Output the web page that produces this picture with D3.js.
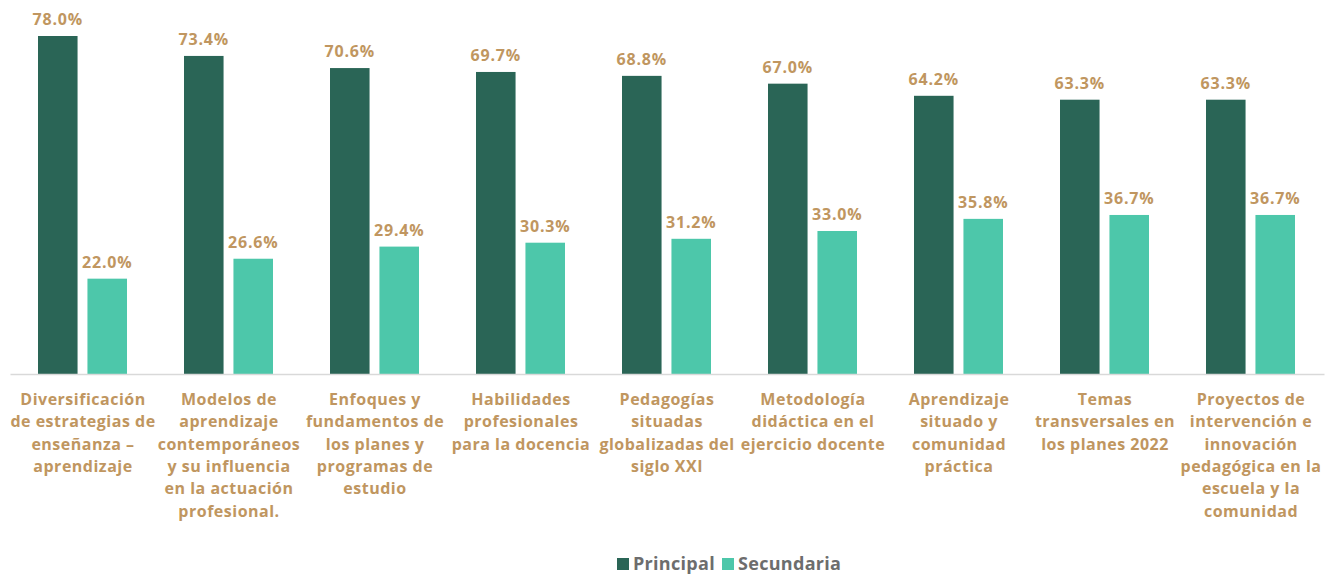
<!DOCTYPE html>
<html>
<head>
<meta charset="utf-8">
<script src="https://cdn.jsdelivr.net/npm/d3@7"></script>
<style>
  body { margin: 0; background: #fff; }
  svg text { font-family: "Open Sans", "DejaVu Sans", sans-serif; font-weight: 700; }
</style>
</head>
<body>
<svg id="chart"></svg>
<script>
// Category labels, broken into lines as in the original
const categories = [
  ["Diversificación", "de estrategias de", "enseñanza –", "aprendizaje"],
  ["Modelos de", "aprendizaje", "contemporáneos", "y su influencia", "en la actuación", "profesional."],
  ["Enfoques y", "fundamentos de", "los planes y", "programas de", "estudio"],
  ["Habilidades", "profesionales", "para la docencia"],
  ["Pedagogías", "situadas", "globalizadas del", "siglo XXI"],
  ["Metodología", "didáctica en el", "ejercicio docente"],
  ["Aprendizaje", "situado y", "comunidad", "práctica"],
  ["Temas", "transversales en", "los planes 2022"],
  ["Proyectos de", "intervención e", "innovación", "pedagógica en la", "escuela y la", "comunidad"]
];
const principal = [78.0, 73.4, 70.6, 69.7, 68.8, 67.0, 64.2, 63.3, 63.3];
const secundaria = [22.0, 26.6, 29.4, 30.3, 31.2, 33.0, 35.8, 36.7, 36.7];
const seriesNames = ["Principal", "Secundaria"];

const colors = { Principal: "#2a6556", Secundaria: "#4dc7aa" };
const labelColor = "#c09660";

const width = 1329, height = 574;
const svg = d3.select("#chart").attr("width", width).attr("height", height);

const data = categories.map((c, i) => ({
  key: i, lines: c, Principal: principal[i], Secundaria: secundaria[i]
}));

// Scales
const x0 = d3.scaleBand()
  .domain(data.map(d => d.key))
  .range([10, 1324])
  .paddingInner(0)
  .paddingOuter(0);

const x1 = d3.scaleBand()
  .domain(seriesNames)
  .range([28, 117])
  .paddingInner(0.2);

const y = d3.scaleLinear()
  .domain([0, 78])
  .range([374, 36]);

// Bars
const groups = svg.append("g").selectAll("g")
  .data(data)
  .enter()
  .append("g")
  .attr("transform", d => `translate(${x0(d.key)},0)`);

groups.selectAll("rect")
  .data(d => seriesNames.map(s => ({ s, v: d[s] })))
  .enter()
  .append("rect")
  .attr("x", d => x1(d.s))
  .attr("y", d => y(d.v))
  .attr("width", x1.bandwidth())
  .attr("height", d => y(0) - y(d.v))
  .attr("fill", d => colors[d.s]);

// Value labels
groups.selectAll(".val")
  .data(d => seriesNames.map(s => ({ s, v: d[s] })))
  .enter()
  .append("text")
  .attr("class", "val")
  .attr("x", d => x1(d.s) + x1.bandwidth() / 2)
  .attr("y", d => y(d.v) - 11)
  .attr("text-anchor", "middle")
  .style("font-size", "16px")
  .style("letter-spacing", "0.8px")
  .style("fill", labelColor)
  .text(d => d.v.toFixed(1) + "%");

// Axis line
svg.append("g")
  .attr("transform", `translate(0,${y(0)})`)
  .call(d3.axisBottom(x0).tickSize(0).tickFormat(""))
  .call(g => g.select(".domain").attr("stroke", "#d9d9d9").attr("stroke-width", 1.5));

// Category labels
groups.append("text")
  .attr("text-anchor", "middle")
  .style("font-size", "16px")
  .style("letter-spacing", "0.5px")
  .style("fill", labelColor)
  .selectAll("tspan")
  .data(d => d.lines)
  .enter()
  .append("tspan")
  .attr("x", x0.bandwidth() / 2)
  .attr("y", (d, i) => 405 + i * 22.3)
  .text(d => d);

// Legend
const legend = svg.append("g").attr("transform", "translate(617,556)");
const legendItems = [{ s: "Principal", x: 0 }, { s: "Secundaria", x: 105 }];
legendItems.forEach(item => {
  legend.append("rect")
    .attr("x", item.x)
    .attr("y", 2)
    .attr("width", 12)
    .attr("height", 12)
    .attr("fill", colors[item.s]);
  legend.append("text")
    .attr("x", item.x + 16)
    .attr("y", 14)
    .style("font-size", "18px")
    .style("letter-spacing", "0.3px")
    .style("fill", "#6d6d6d")
    .text(item.s);
});
</script>
</body>
</html>
